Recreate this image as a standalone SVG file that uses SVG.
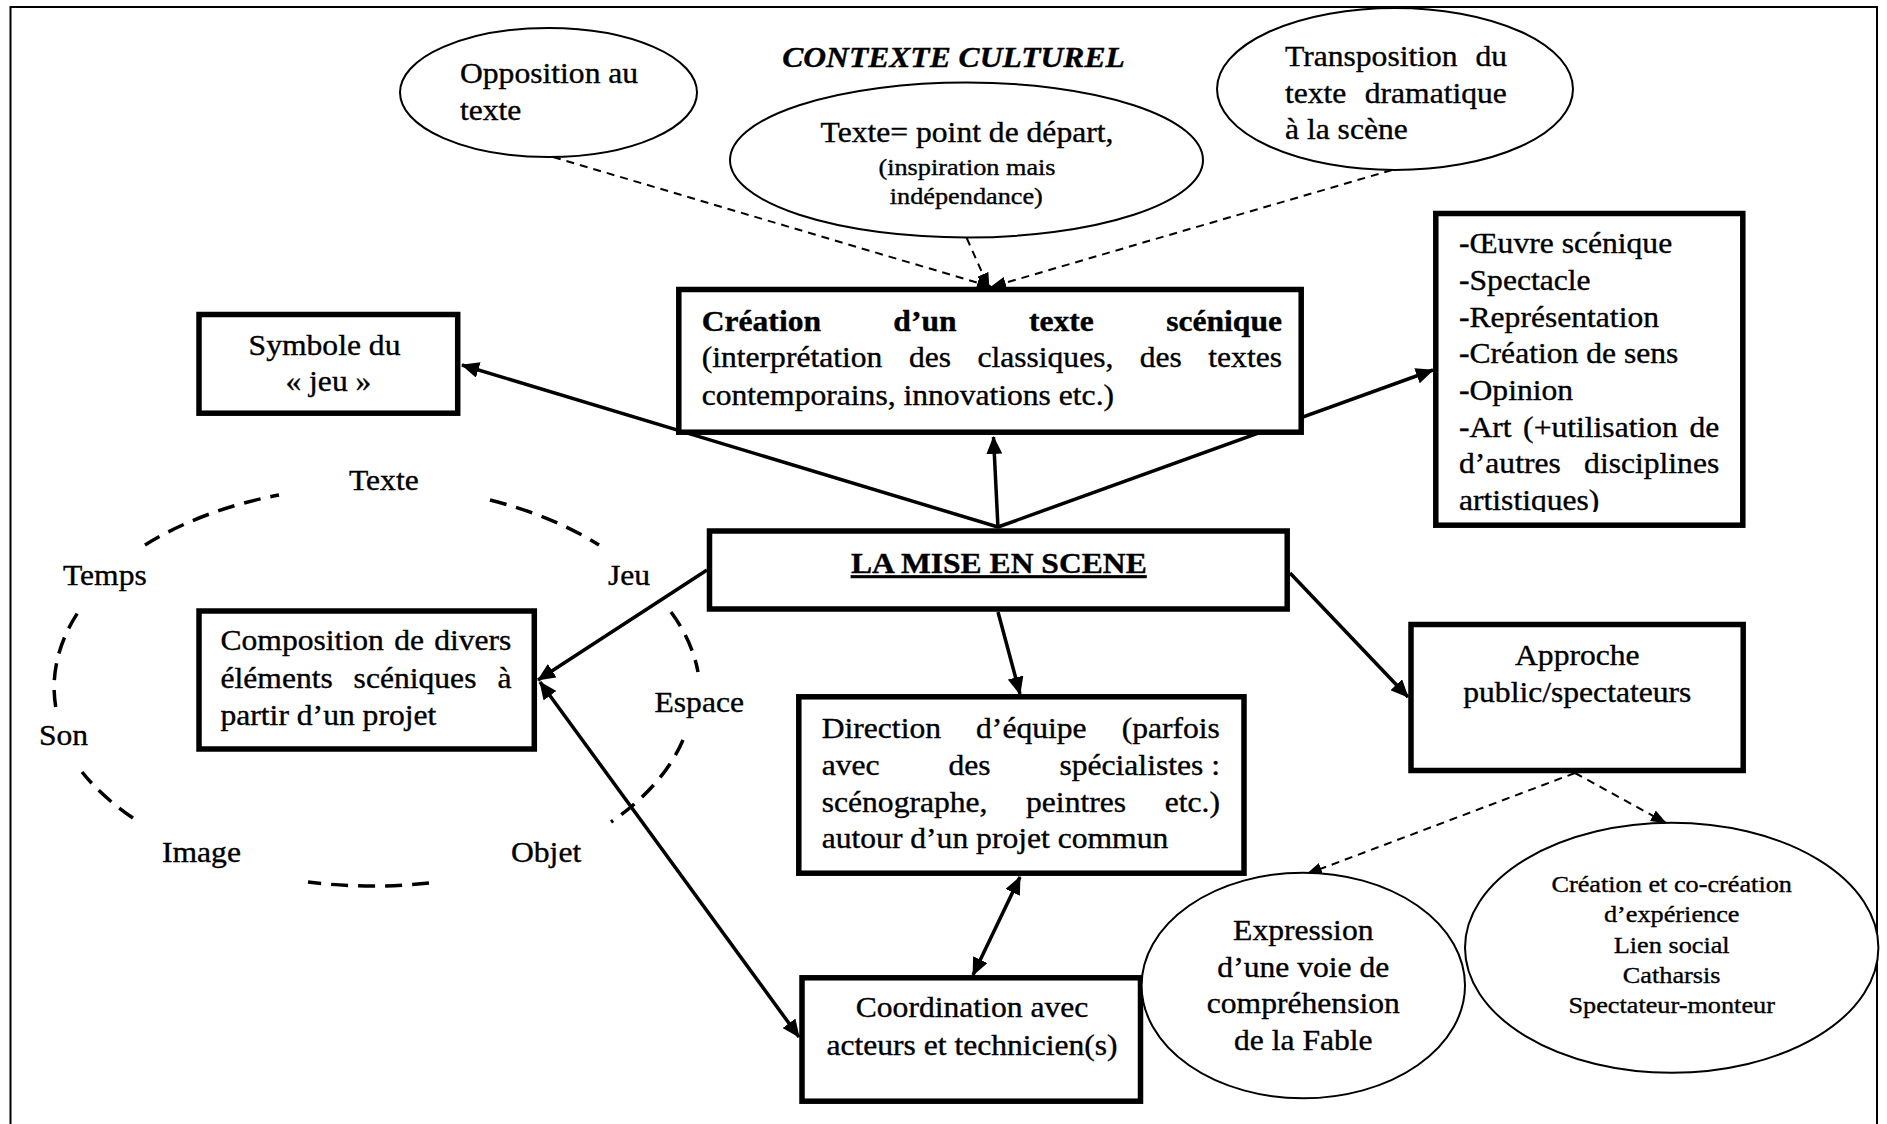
<svg xmlns="http://www.w3.org/2000/svg" width="1887" height="1124" viewBox="0 0 1887 1124">
<style>
.t{font-family:"Liberation Serif","Times New Roman",serif;font-size:28.4px;fill:#000;stroke:#000;stroke-width:0.35px}
.sm{font-size:23.6px}
.b{font-weight:bold}
.bi{font-weight:bold;font-style:italic}
.c{text-anchor:middle}
.box{fill:#fff;stroke:#000;stroke-width:5.5}
.ell{fill:#fff;stroke:#000;stroke-width:2}
.sol{fill:none;stroke:#000;stroke-width:3.5}
.dsh{fill:none;stroke:#000;stroke-width:2;stroke-dasharray:8 6}
.cyc{fill:none;stroke:#000;stroke-width:3.5;stroke-dasharray:17 10}
</style>
<defs>
<marker id="ah" viewBox="0 0 18 16" refX="17" refY="8" markerWidth="18" markerHeight="16" markerUnits="userSpaceOnUse" orient="auto-start-reverse"><path d="M0,0 L18,8 L0,16 z" fill="#000"/></marker>
<marker id="ahd" viewBox="0 0 16 12" refX="15" refY="6" markerWidth="16" markerHeight="12" markerUnits="userSpaceOnUse" orient="auto"><path d="M0,0 L16,6 L0,12 z" fill="#000"/></marker>
<clipPath id="clipOeuvre"><rect x="1436" y="214" width="307" height="298"/></clipPath>
</defs>
<rect x="10.5" y="7" width="1866.5" height="1130" fill="none" stroke="#000" stroke-width="2"/>

<g id="connectors">
<path class="dsh" d="M553,157 L992,287" marker-end="url(#ahd)"/>
<path class="dsh" d="M966.7,238 L989,288" marker-end="url(#ahd)"/>
<path class="dsh" d="M1392,170 L991,287" marker-end="url(#ahd)"/>
<path class="sol" d="M998,527 L462,365" marker-end="url(#ah)"/>
<path class="sol" d="M998,528 L993.5,437" marker-end="url(#ah)"/>
<path class="sol" d="M998,527 L1433,370" marker-end="url(#ah)"/>
<path class="sol" d="M707,570 L538,680" marker-end="url(#ah)"/>
<path class="sol" d="M998,612 L1020,694" marker-end="url(#ah)"/>
<path class="sol" d="M1290,573 L1408,697" marker-end="url(#ah)"/>
<path class="sol" d="M1020,877 L973,975" marker-start="url(#ah)" marker-end="url(#ah)"/>
<path class="sol" d="M540,682 L799,1037" marker-start="url(#ah)" marker-end="url(#ah)"/>
<path class="dsh" d="M1575,773 L1307,874" marker-end="url(#ahd)"/>
<path class="dsh" d="M1575,773 L1666,823" marker-end="url(#ahd)"/>
</g>

<g id="contexte">
<text class="t bi c" transform="translate(953.5 67) scale(1.113 1)">CONTEXTE CULTUREL</text>
</g>

<g id="opposition">
<ellipse class="ell" cx="548.5" cy="92.5" rx="148.5" ry="64.5"/>
<text class="t" transform="translate(460 83.3) scale(1.113 1)">Opposition au</text>
<text class="t" transform="translate(460 120) scale(1.113 1)">texte</text>
</g>

<g id="texte-depart">
<ellipse class="ell" cx="966.5" cy="160" rx="236.5" ry="77.5"/>
<text class="t c" transform="translate(967 141.7) scale(1.113 1)">Texte= point de départ,</text>
<text class="t sm c" transform="translate(967 175) scale(1.113 1)">(inspiration mais</text>
<text class="t sm c" transform="translate(966.3 204) scale(1.113 1)">indépendance)</text>
</g>

<g id="transposition">
<ellipse class="ell" cx="1395" cy="89" rx="178" ry="81"/>
<text class="t" transform="translate(1285 66) scale(1.113 1)"><tspan x="0">Transposition</tspan><tspan x="171.1">du</tspan></text>
<text class="t" transform="translate(1285 102.7) scale(1.113 1)"><tspan x="0">texte</tspan><tspan x="71.7">dramatique</tspan></text>
<text class="t" transform="translate(1285 139.4) scale(1.113 1)">à la scène</text>
</g>

<g id="creation-texte">
<rect class="box" x="678.8" y="289.5" width="622.4" height="142.7"/>
<text class="t b" transform="translate(701.7 330.7) scale(1.113 1)"><tspan x="0">Création</tspan><tspan x="172.2">d’un</tspan><tspan x="294">texte</tspan><tspan x="417.3">scénique</tspan></text>
<text class="t" transform="translate(701.7 367.3) scale(1.113 1)"><tspan x="0">(interprétation</tspan><tspan x="186.2">des</tspan><tspan x="247.7">classiques,</tspan><tspan x="393.6">des</tspan><tspan x="455.2">textes</tspan></text>
<text class="t" transform="translate(701.7 405) scale(1.113 1)">contemporains, innovations etc.)</text>
</g>

<g id="symbole">
<rect class="box" x="199" y="314.5" width="258.7" height="98.7"/>
<text class="t" transform="translate(248.6 355) scale(1.113 1)">Symbole du</text>
<text class="t c" transform="translate(328.4 390.5) scale(1.113 1)">« jeu »</text>
</g>

<g id="oeuvre">
<rect class="box" x="1435.8" y="213.5" width="307" height="311.7"/>
<g clip-path="url(#clipOeuvre)">
<text class="t" transform="translate(1459 253.3) scale(1.113 1)">-Œuvre scénique</text>
<text class="t" transform="translate(1459 290) scale(1.113 1)">-Spectacle</text>
<text class="t" transform="translate(1459 326.7) scale(1.113 1)">-Représentation</text>
<text class="t" transform="translate(1459 363.3) scale(1.113 1)">-Création de sens</text>
<text class="t" transform="translate(1459 400) scale(1.113 1)">-Opinion</text>
<text class="t" transform="translate(1459 436.7) scale(1.113 1)"><tspan x="0">-Art</tspan><tspan x="57.6">(+utilisation</tspan><tspan x="207.1">de</tspan></text>
<text class="t" transform="translate(1459 473.3) scale(1.113 1)"><tspan x="0">d’autres</tspan><tspan x="112.4">disciplines</tspan></text>
<text class="t" transform="translate(1459 510) scale(1.113 1)">artistiques)</text>
</g>
</g>

<g id="mise-en-scene">
<rect class="box" x="709.5" y="531" width="577.7" height="78"/>
<text class="t b c" text-decoration="underline" transform="translate(998.8 573.3) scale(1.113 1)">LA MISE EN SCENE</text>
</g>

<g id="composition">
<rect class="box" x="199" y="611" width="335.3" height="138"/>
<text class="t" transform="translate(220.5 650) scale(1.113 1)"><tspan x="0">Composition</tspan><tspan x="156">de</tspan><tspan x="192">divers</tspan></text>
<text class="t" transform="translate(220.5 688.3) scale(1.113 1)"><tspan x="0">éléments</tspan><tspan x="119.6">scéniques</tspan><tspan x="248.8">à</tspan></text>
<text class="t" transform="translate(220.5 725) scale(1.113 1)">partir d’un projet</text>
</g>

<g id="elements-cycle">
<path class="cyc" d="M145,545 A323,199 0 0 1 279,495 M490,500 A323,199 0 0 1 599,545 M671,612 A323,199 0 0 1 698,672 M683,740 A323,199 0 0 1 611,822 M429,883 A323,199 0 0 1 308,882 M133,818 A323,199 0 0 1 82,772 M55.7,707 A323,199 0 0 1 77.6,613"/>
<text class="t" transform="translate(349 490) scale(1.113 1)">Texte</text>
<text class="t" transform="translate(63 585) scale(1.113 1)">Temps</text>
<text class="t" transform="translate(608 585) scale(1.113 1)">Jeu</text>
<text class="t" transform="translate(654.5 711.7) scale(1.113 1)">Espace</text>
<text class="t" transform="translate(39 745) scale(1.113 1)">Son</text>
<text class="t" transform="translate(162 862) scale(1.113 1)">Image</text>
<text class="t" transform="translate(511 862) scale(1.113 1)">Objet</text>
</g>

<g id="direction">
<rect class="box" x="798.8" y="696.8" width="445.2" height="176.4"/>
<text class="t" transform="translate(821.7 738.3) scale(1.113 1)"><tspan x="0">Direction</tspan><tspan x="138.7">d’équipe</tspan><tspan x="269.5">(parfois</tspan></text>
<text class="t" transform="translate(821.7 775) scale(1.113 1)"><tspan x="0">avec</tspan><tspan x="113.9">des</tspan><tspan x="213.6">spécialistes :</tspan></text>
<text class="t" transform="translate(821.7 811.7) scale(1.113 1)"><tspan x="0">scénographe,</tspan><tspan x="183.6">peintres</tspan><tspan x="308.2">etc.)</tspan></text>
<text class="t" transform="translate(821.7 848.3) scale(1.113 1)">autour d’un projet commun</text>
</g>

<g id="approche">
<rect class="box" x="1411" y="624.5" width="332.2" height="146"/>
<text class="t c" transform="translate(1577.3 665) scale(1.113 1)">Approche</text>
<text class="t c" transform="translate(1577.3 701.7) scale(1.113 1)">public/spectateurs</text>
</g>

<g id="coordination">
<rect class="box" x="802" y="977.8" width="338.5" height="123.4"/>
<text class="t c" transform="translate(972 1016.7) scale(1.113 1)">Coordination avec</text>
<text class="t c" transform="translate(972 1055) scale(1.113 1)">acteurs et technicien(s)</text>
</g>

<g id="expression">
<ellipse class="ell" cx="1303.3" cy="985.5" rx="161.7" ry="112.8"/>
<text class="t c" transform="translate(1303.3 940) scale(1.113 1)">Expression</text>
<text class="t c" transform="translate(1303.3 976.7) scale(1.113 1)">d’une voie de</text>
<text class="t c" transform="translate(1303.3 1013.3) scale(1.113 1)">compréhension</text>
<text class="t c" transform="translate(1303.3 1050) scale(1.113 1)">de la Fable</text>
</g>

<g id="creation-experience">
<ellipse class="ell" cx="1671.7" cy="947.7" rx="206.7" ry="125"/>
<text class="t sm c" transform="translate(1671.7 891.7) scale(1.113 1)">Création et co-création</text>
<text class="t sm c" transform="translate(1671.7 922.1) scale(1.113 1)">d’expérience</text>
<text class="t sm c" transform="translate(1671.7 952.5) scale(1.113 1)">Lien social</text>
<text class="t sm c" transform="translate(1671.7 982.9) scale(1.113 1)">Catharsis</text>
<text class="t sm c" transform="translate(1671.7 1013.3) scale(1.113 1)">Spectateur-monteur</text>
</g>
</svg>
